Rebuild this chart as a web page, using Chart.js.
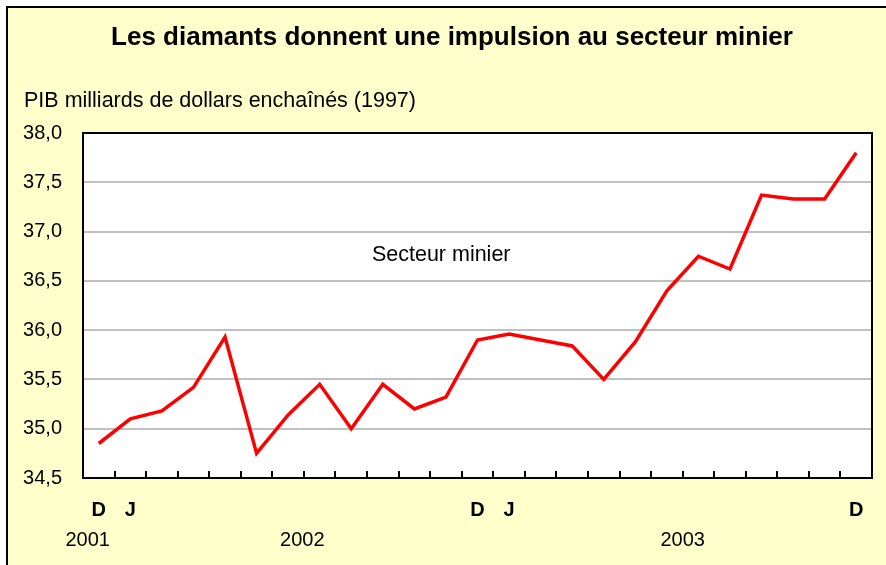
<!DOCTYPE html>
<html>
<head>
<meta charset="utf-8">
<script src="https://cdn.jsdelivr.net/npm/chart.js@4"></script>
<style>
  body { margin: 0; background: #fff; }
  #wrap { width: 886px; height: 565px; }
</style>
</head>
<body>
<div id="wrap"><canvas id="chart"></canvas></div>
<script>
// dec 2001 .. dec 2003, monthly
const months = ['D', 'J', 'F', 'M', 'A', 'M', 'J', 'J', 'A', 'S', 'O', 'N',
                'D', 'J', 'F', 'M', 'A', 'M', 'J', 'J', 'A', 'S', 'O', 'N', 'D'];
const tickLabels = ['D', 'J', '', '', '', '', '', '', '', '', '', '',
                    'D', 'J', '', '', '', '', '', '', '', '', '', '', 'D'];
const mining = [34.85, 35.10, 35.18, 35.42, 35.93, 34.75, 35.14, 35.45, 35.00, 35.45, 35.20, 35.32,
                35.90, 35.96, 35.90, 35.84, 35.50, 35.88, 36.40, 36.75, 36.62, 37.37, 37.33, 37.33, 37.80];
const years = ['2001', '2002', '2003'];
const yearAt = [-0.35, 6.45, 18.5];   // category position of each year label

const title = 'Les diamants donnent une impulsion au secteur minier';
const yCaption = 'PIB milliards de dollars enchaînés (1997)';
const seriesName = 'Secteur minier';

const FONT = '"Liberation Sans", Arial, sans-serif';

const decor = {
    id: 'decor',
    beforeDraw(chart) {
        const ctx = chart.ctx, a = chart.chartArea;
        ctx.save();
        ctx.fillStyle = '#ffffff';
        ctx.fillRect(0, 0, chart.width, chart.height);
        ctx.fillStyle = '#ffffcc';
        ctx.fillRect(6, 6, chart.width - 6, chart.height - 6);
        ctx.fillStyle = '#000';
        ctx.fillRect(6, 6, chart.width - 6, 2);
        ctx.fillRect(6, 6, 2, chart.height - 6);
        ctx.fillStyle = '#ffffff';
        ctx.fillRect(a.left, a.top, a.right - a.left, a.bottom - a.top);
        ctx.restore();
    },
    afterDraw(chart) {
        const ctx = chart.ctx, a = chart.chartArea;
        const x = chart.scales.x, y = chart.scales.y;
        ctx.save();
        ctx.strokeStyle = '#000';
        ctx.lineWidth = 2;
        ctx.strokeRect(a.left, a.top, a.right - a.left, a.bottom - a.top);

        ctx.fillStyle = '#000';
        ctx.textBaseline = 'middle';
        ctx.textAlign = 'center';
        ctx.font = 'bold 26px ' + FONT;
        ctx.fillText(title, 452, 38);

        ctx.textAlign = 'left';
        ctx.font = '21.5px ' + FONT;
        ctx.fillText(yCaption, 24, 101);

        ctx.textAlign = 'center';
        ctx.fillText(seriesName, x.getPixelForValue(10.85), y.getPixelForValue(36.76));

        ctx.font = '20px ' + FONT;
        years.forEach((t, i) => ctx.fillText(t, x.getPixelForValue(yearAt[i]), 540));
        ctx.restore();
    }
};

new Chart(document.getElementById('chart'), {
    type: 'line',
    data: {
        labels: months,
        datasets: [{
            label: seriesName,
            data: mining,
            borderColor: '#ff0000',
            borderWidth: 3.5,
            pointRadius: 0,
            tension: 0
        }]
    },
    options: {
        responsive: true,
        maintainAspectRatio: false,
        animation: false,
        layout: { padding: { left: 0, top: 133, right: 14, bottom: 0 } },
        plugins: {
            legend: { display: false },
            tooltip: { enabled: false }
        },
        scales: {
            x: {
                type: 'category',
                offset: true,
                afterFit(s) {
                    s.height = 87;
                    s.paddingLeft = 0;
                    s.paddingRight = 0;
                },
                grid: {
                    offset: true,
                    drawOnChartArea: false,
                    drawTicks: true,
                    tickLength: -7,
                    color: '#000',
                    lineWidth: 2
                },
                border: { display: true, color: '#000', width: 2 },
                ticks: {
                    autoSkip: false,
                    maxRotation: 0,
                    padding: 27,
                    color: '#000',
                    font: { family: FONT, size: 20, weight: 'bold' },
                    callback: (v, i) => tickLabels[i]
                }
            },
            y: {
                min: 34.5,
                max: 38,
                afterFit(s) {
                    s.width = 83;
                    s.paddingTop = 0;
                    s.paddingBottom = 0;
                },
                grid: { color: '#c0c0c0', lineWidth: 2, drawTicks: false },
                border: { display: true, color: '#000', width: 2 },
                ticks: {
                    stepSize: 0.5,
                    padding: 21,
                    color: '#000',
                    font: { family: FONT, size: 20 },
                    callback: v => v.toFixed(1).replace('.', ',')
                }
            }
        }
    },
    plugins: [decor]
});
</script>
</body>
</html>
